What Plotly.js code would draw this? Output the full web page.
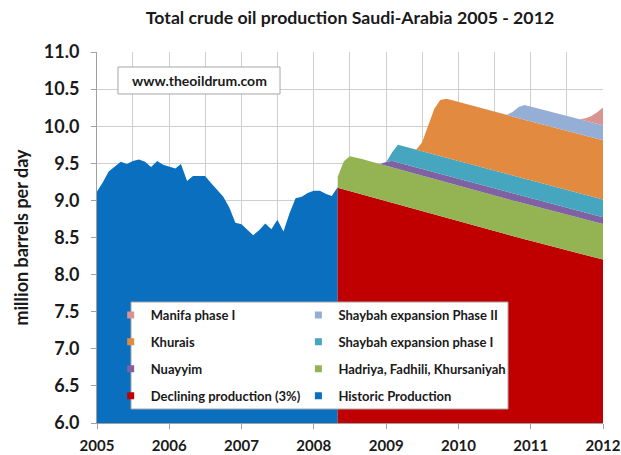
<!DOCTYPE html>
<html>
<head>
<meta charset="utf-8">
<script src="https://cdn.plot.ly/plotly-3.0.1.min.js"></script>
<style>html,body{margin:0;padding:0;background:#fff}#chart{width:621px;height:455px}</style>
</head>
<body>
<div id="chart"></div>
<script>
// ---- data ----
var histMonths = ['2005-01','2005-02','2005-03','2005-04','2005-05','2005-06','2005-07','2005-08','2005-09','2005-10','2005-11','2005-12',
  '2006-01','2006-02','2006-03','2006-04','2006-05','2006-06','2006-07','2006-08','2006-09','2006-10','2006-11','2006-12',
  '2007-01','2007-02','2007-03','2007-04','2007-05','2007-06','2007-07','2007-08','2007-09','2007-10','2007-11','2007-12',
  '2008-01','2008-02','2008-03','2008-04','2008-05'];
var historic = [9.12, 9.25, 9.39, 9.45, 9.52, 9.49, 9.53, 9.55, 9.52, 9.45, 9.53, 9.48,
  9.45, 9.43, 9.49, 9.26, 9.33, 9.33, 9.33, 9.23, 9.14, 9.05, 8.90, 8.70,
  8.68, 8.60, 8.53, 8.60, 8.69, 8.61, 8.74, 8.58, 8.83, 9.03, 9.05, 9.10,
  9.13, 9.13, 9.09, 9.06, 9.18];

var projMonths = ['2008-05','2008-06','2008-07','2008-08','2008-09','2008-10','2008-11','2008-12',
  '2009-01','2009-02','2009-03','2009-04','2009-05','2009-06','2009-07','2009-08','2009-09','2009-10','2009-11','2009-12',
  '2010-01','2010-02','2010-03','2010-04','2010-05','2010-06','2010-07','2010-08','2010-09','2010-10','2010-11','2010-12',
  '2011-01','2011-02','2011-03','2011-04','2011-05','2011-06','2011-07','2011-08','2011-09','2011-10','2011-11','2011-12',
  '2012-01'];
var declining = [9.170, 9.147, 9.124, 9.101, 9.078, 9.055, 9.032, 9.009,
  8.986, 8.963, 8.940, 8.918, 8.895, 8.873, 8.850, 8.828, 8.805, 8.783, 8.761, 8.739,
  8.716, 8.694, 8.672, 8.650, 8.628, 8.606, 8.585, 8.563, 8.541, 8.520, 8.498, 8.477,
  8.455, 8.434, 8.413, 8.391, 8.370, 8.349, 8.328, 8.307, 8.286, 8.265, 8.244, 8.223,
  8.202];
var hadriya = [0.15, 0.38, 0.47, 0.48, 0.48, 0.48, 0.48, 0.48,
  0.48, 0.48, 0.48, 0.48, 0.48, 0.48, 0.48, 0.48, 0.48, 0.48, 0.48, 0.48,
  0.48, 0.48, 0.48, 0.48, 0.48, 0.48, 0.48, 0.48, 0.48, 0.48, 0.48, 0.48,
  0.48, 0.48, 0.48, 0.48, 0.48, 0.48, 0.48, 0.48, 0.48, 0.48, 0.48, 0.48,
  0.48];
var nuayyim = [0, 0, 0, 0, 0, 0, 0, 0,
  0.05, 0.09, 0.09, 0.09, 0.09, 0.09, 0.09, 0.09, 0.09, 0.09, 0.09, 0.09,
  0.09, 0.09, 0.09, 0.09, 0.09, 0.09, 0.09, 0.09, 0.09, 0.09, 0.09, 0.09,
  0.09, 0.09, 0.09, 0.09, 0.09, 0.09, 0.09, 0.09, 0.09, 0.09, 0.09, 0.09,
  0.09];
var shaybah1 = [0, 0, 0, 0, 0, 0, 0, 0,
  0, 0.12, 0.24, 0.24, 0.24, 0.24, 0.24, 0.24, 0.24, 0.24, 0.24, 0.24,
  0.24, 0.24, 0.24, 0.24, 0.24, 0.24, 0.24, 0.24, 0.24, 0.24, 0.24, 0.24,
  0.24, 0.24, 0.24, 0.24, 0.24, 0.24, 0.24, 0.24, 0.24, 0.24, 0.24, 0.24,
  0.24];
var khurais = [0, 0, 0, 0, 0, 0, 0, 0,
  0, 0, 0, 0, 0, 0, 0.12, 0.38, 0.62, 0.76, 0.80, 0.80,
  0.80, 0.80, 0.80, 0.80, 0.80, 0.80, 0.80, 0.80, 0.80, 0.80, 0.80, 0.80,
  0.80, 0.80, 0.80, 0.80, 0.80, 0.80, 0.80, 0.80, 0.80, 0.80, 0.80, 0.80,
  0.80];
var shaybah2 = [0, 0, 0, 0, 0, 0, 0, 0,
  0, 0, 0, 0, 0, 0, 0, 0, 0, 0, 0, 0,
  0, 0, 0, 0, 0, 0, 0, 0, 0, 0.06, 0.15, 0.20,
  0.20, 0.20, 0.20, 0.20, 0.20, 0.20, 0.20, 0.20, 0.20, 0.20, 0.20, 0.20,
  0.20];
var manifa = [0, 0, 0, 0, 0, 0, 0, 0,
  0, 0, 0, 0, 0, 0, 0, 0, 0, 0, 0, 0,
  0, 0, 0, 0, 0, 0, 0, 0, 0, 0, 0, 0,
  0, 0, 0, 0, 0, 0, 0, 0, 0, 0.03, 0.08, 0.15,
  0.24];

var seriesNames = ['Declining production (3%)', 'Hadriya, Fadhili, Khursaniyah', 'Nuayyim',
  'Shaybah expansion phase I', 'Khurais', 'Shaybah expansion Phase II', 'Manifa phase I'];
var historicName = 'Historic Production';

// ---- styles ----
var colors = {
  historic: '#0A6FBF', declining: '#C00000', hadriya: '#94B454', nuayyim: '#7E62A1',
  shaybah1: '#46A5BF', khurais: '#E28A3F', shaybah2: '#95AED6', manifa: '#D99391'
};
var FONT = 'Lato, "Open Sans", sans-serif';
var TXT = '#1a1a1a';

var projSeries = [declining, hadriya, nuayyim, shaybah1, khurais, shaybah2, manifa];
var projColors = [colors.declining, colors.hadriya, colors.nuayyim, colors.shaybah1, colors.khurais, colors.shaybah2, colors.manifa];

var traces = [];
traces.push({
  type: 'scatter', mode: 'lines', x: histMonths, y: historic, name: historicName,
  fill: 'tozeroy', fillcolor: colors.historic, line: {width: 0, color: colors.historic},
  showlegend: false
});
projSeries.forEach(function (s, i) {
  traces.push({
    type: 'scatter', mode: 'lines', x: projMonths, y: s, name: seriesNames[i],
    stackgroup: 'proj', fillcolor: projColors[i], line: {width: 0, color: projColors[i]},
    showlegend: false
  });
});

// legend entries (square markers), two columns
function legendEntry(name, color, legendId) {
  return {
    type: 'scatter', mode: 'markers', x: [null], y: [null], name: name,
    marker: {symbol: 'square', size: 7, color: color},
    legend: legendId, legendgroup: name, showlegend: true, hoverinfo: 'skip'
  };
}
traces.push(legendEntry('Manifa phase I', colors.manifa, 'legend'));
traces.push(legendEntry('Khurais', colors.khurais, 'legend'));
traces.push(legendEntry('Nuayyim', colors.nuayyim, 'legend'));
traces.push(legendEntry('Declining production (3%)', colors.declining, 'legend'));
traces.push(legendEntry('Shaybah expansion Phase II', colors.shaybah2, 'legend2'));
traces.push(legendEntry('Shaybah expansion phase I', colors.shaybah1, 'legend2'));
traces.push(legendEntry('Hadriya, Fadhili, Khursaniyah', colors.hadriya, 'legend2'));
traces.push(legendEntry('Historic Production', colors.historic, 'legend2'));

var legendCommon = {
  bgcolor: 'rgba(0,0,0,0)', borderwidth: 0, traceorder: 'grouped', tracegroupgap: 7,
  font: {family: FONT, size: 13, weight: 'bold', color: TXT},
  xanchor: 'left', yanchor: 'top', itemclick: false, itemdoubleclick: false
};

var layout = {
  width: 621, height: 455,
  margin: {l: 97, r: 18, t: 52, b: 32},
  paper_bgcolor: '#ffffff', plot_bgcolor: '#ffffff',
  showlegend: true,
  title: {
    text: 'Total crude oil production Saudi-Arabia 2005 - 2012',
    font: {family: FONT, size: 17.7, weight: 'bold', color: TXT},
    x: 0.5, xref: 'paper', xanchor: 'center', y: 0.96, yref: 'container', yanchor: 'middle'
  },
  xaxis: {
    type: 'date', range: ['2005-01-01', '2012-01-01'],
    dtick: 'M12', tick0: '2005-01-01', tickformat: '%Y',
    ticks: 'outside', ticklen: 5, tickcolor: '#a0a0a0',
    showline: true, linecolor: '#a0a0a0', linewidth: 1,
    showgrid: true, gridcolor: '#cfcfcf', gridwidth: 1,
    minor: {dtick: 'M6', showgrid: true, gridcolor: '#cfcfcf', gridwidth: 1, ticks: ''},
    tickfont: {family: FONT, size: 15, weight: 'bold', color: TXT},
    ticklabelstandoff: 4, zeroline: false, fixedrange: true
  },
  yaxis: {
    range: [6, 11], dtick: 0.5, tick0: 6, tickformat: '.1f',
    ticks: 'outside', ticklen: 5, tickcolor: '#a0a0a0',
    showline: true, linecolor: '#a0a0a0', linewidth: 1,
    showgrid: true, gridcolor: '#cfcfcf', gridwidth: 1,
    tickfont: {family: FONT, size: 18, weight: 'bold', color: TXT},
    ticklabelstandoff: 8, zeroline: false, fixedrange: true,
    title: {text: 'million barrels per day', standoff: 10,
      font: {family: FONT, size: 18, weight: 'bold', color: TXT}}
  },
  legend: Object.assign({x: 0.027, y: 0.3315}, legendCommon),
  legend2: Object.assign({x: 0.398, y: 0.3315}, legendCommon),
  shapes: [
    {type: 'rect', xref: 'paper', yref: 'paper', x0: 0.0415, x1: 0.3617, y0: 0.8868, y1: 0.9596,
     fillcolor: '#ffffff', line: {color: '#a6a6a6', width: 1}, layer: 'above'},
    {type: 'rect', xref: 'paper', yref: 'paper', x0: 0.0672, x1: 0.8123, y0: 0.0377, y1: 0.3261,
     fillcolor: '#ffffff', line: {color: '#a6a6a6', width: 1}, layer: 'above'}
  ],
  annotations: [
    {text: 'www.theoildrum.com', xref: 'paper', yref: 'paper', x: 0.2016, y: 0.9232,
     xanchor: 'center', yanchor: 'middle', showarrow: false,
     font: {family: FONT, size: 14, weight: 'bold', color: TXT}}
  ]
};

Plotly.newPlot('chart', traces, layout, {displayModeBar: false, staticPlot: true});
</script>
</body>
</html>
